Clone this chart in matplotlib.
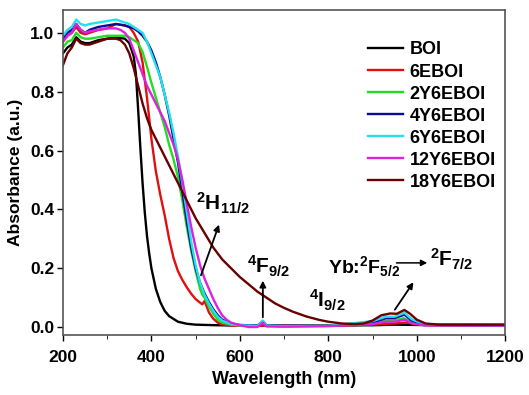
import matplotlib
matplotlib.use("Agg")
import matplotlib.pyplot as plt

plt.rcParams['font.family'] = ['Liberation Sans', 'DejaVu Sans']
plt.rcParams['font.weight'] = 'bold'
plt.rcParams['mathtext.fontset'] = 'custom'
plt.rcParams['mathtext.rm'] = 'Liberation Sans:bold'
plt.rcParams['mathtext.bf'] = 'Liberation Sans:bold'
plt.rcParams['mathtext.it'] = 'Liberation Sans:bold'
plt.rcParams['mathtext.default'] = 'bf'

# values
wl_boi = [200, 210, 220, 230, 240, 250, 260, 280, 300, 320, 340, 350, 360, 365, 370, 375, 380, 385, 390,
          395, 400, 410, 420, 430, 440, 460, 480, 500, 550, 600, 700, 800, 900, 950, 1000, 1100, 1200]
a_boi = [0.93, 0.95, 0.96, 0.985, 0.97, 0.965, 0.965, 0.975, 0.98, 0.985, 0.98, 0.965, 0.92, 0.86, 0.74,
         0.61, 0.49, 0.39, 0.31, 0.25, 0.2, 0.13, 0.085, 0.055, 0.037, 0.018, 0.011, 0.008, 0.006, 0.005,
         0.005, 0.005, 0.006, 0.008, 0.007, 0.005, 0.005]

wl_6e = [200, 210, 220, 230, 240, 250, 260, 280, 300, 320, 340, 350, 360, 370, 380, 390, 400, 410, 420,
         430, 440, 450, 460, 470, 480, 490, 500, 510, 515, 520, 525, 530, 540, 550, 560, 580, 600, 700,
         800, 900, 950, 975, 1000, 1050, 1200]
a_6e = [0.97, 0.99, 1.0, 1.02, 1.0, 0.995, 1.0, 1.01, 1.015, 1.03, 1.025, 1.02, 1.0, 0.97, 0.9, 0.78,
        0.64, 0.53, 0.45, 0.38, 0.3, 0.235, 0.19, 0.16, 0.135, 0.113, 0.095, 0.083, 0.077, 0.088, 0.07,
        0.05, 0.028, 0.015, 0.009, 0.005, 0.004, 0.004, 0.005, 0.008, 0.012, 0.015, 0.01, 0.008, 0.008]

wl_2y = [200, 210, 220, 230, 240, 250, 260, 280, 300, 320, 340, 350, 360, 370, 380, 390, 400, 410, 420,
         430, 440, 450, 460, 470, 480, 490, 500, 510, 515, 520, 530, 540, 550, 560, 580, 600, 640, 652,
         660, 700, 800, 900, 930, 950, 970, 990, 1020, 1200]
a_2y = [0.95, 0.97, 0.975, 1.0, 0.985, 0.98, 0.98, 0.985, 0.99, 0.99, 0.99, 0.985, 0.975, 0.965, 0.935,
        0.885, 0.83, 0.78, 0.73, 0.68, 0.62, 0.57, 0.51, 0.43, 0.34, 0.26, 0.19, 0.13, 0.11, 0.1, 0.07,
        0.045, 0.025, 0.015, 0.008, 0.005, 0.004, 0.015, 0.004, 0.003, 0.004, 0.012, 0.022, 0.022, 0.03,
        0.015, 0.006, 0.005]

wl_4y = [200, 210, 220, 230, 240, 250, 260, 280, 300, 320, 340, 360, 370, 380, 390, 400, 410, 420, 430,
         440, 450, 460, 470, 480, 490, 500, 510, 520, 530, 540, 550, 560, 580, 600, 640, 652, 660, 700,
         800, 900, 930, 950, 972, 990, 1020, 1200]
a_4y = [0.98, 1.0, 1.01, 1.03, 1.01, 1.0, 1.01, 1.02, 1.025, 1.03, 1.025, 1.015, 1.005, 0.99, 0.97, 0.94,
        0.9, 0.85, 0.79, 0.72, 0.64, 0.56, 0.46, 0.36, 0.27, 0.2, 0.15, 0.115, 0.085, 0.06, 0.04, 0.025,
        0.012, 0.007, 0.005, 0.02, 0.006, 0.004, 0.004, 0.015, 0.03, 0.03, 0.042, 0.02, 0.008, 0.006]

wl_6y = [200, 210, 220, 230, 240, 250, 260, 280, 300, 320, 340, 350, 360, 370, 380, 390, 400, 410, 420,
         430, 440, 450, 460, 470, 480, 490, 500, 510, 520, 530, 540, 550, 560, 580, 600, 640, 652, 660,
         700, 800, 900, 930, 950, 972, 990, 1020, 1200]
a_6y = [0.99, 1.01, 1.02, 1.045, 1.03, 1.025, 1.03, 1.035, 1.04, 1.045, 1.035, 1.03, 1.02, 1.01, 1.0,
        0.97, 0.93, 0.89, 0.85, 0.79, 0.73, 0.66, 0.58, 0.49, 0.39, 0.29, 0.21, 0.15, 0.11, 0.08, 0.055,
        0.035, 0.022, 0.01, 0.006, 0.004, 0.022, 0.005, 0.003, 0.004, 0.02, 0.035, 0.035, 0.048, 0.025,
        0.008, 0.006]

wl_12y = [200, 210, 220, 230, 240, 250, 260, 280, 300, 320, 330, 340, 350, 360, 370, 380, 390, 400, 410,
          420, 430, 440, 450, 460, 470, 480, 490, 500, 510, 520, 530, 540, 550, 560, 570, 580, 600, 620,
          640, 652, 660, 700, 750, 800, 900, 930, 950, 972, 990, 1020, 1200]
a_12y = [0.97, 0.99, 1.0, 1.03, 1.01, 1.0, 1.005, 1.01, 1.015, 1.015, 1.01, 1.0, 0.98, 0.94, 0.9, 0.86,
         0.82, 0.79, 0.76, 0.73, 0.7, 0.66, 0.62, 0.57, 0.5, 0.42, 0.34, 0.27, 0.21, 0.165, 0.13, 0.095,
         0.065, 0.04, 0.025, 0.015, 0.006, 0.0, 0.0, 0.015, 0.002, 0.001, 0.002, 0.003, 0.01, 0.018,
         0.018, 0.025, 0.012, 0.005, 0.005]

wl_18y = [200, 210, 220, 230, 240, 250, 260, 280, 300, 320, 330, 340, 350, 360, 370, 380, 390, 400, 410,
          420, 430, 440, 450, 460, 470, 480, 500, 520, 540, 560, 580, 600, 620, 640, 660, 680, 700, 720,
          750, 780, 800, 830, 860, 880, 900, 920, 940, 955, 972, 985, 1000, 1020, 1050, 1200]
a_18y = [0.89, 0.93, 0.95, 0.98, 0.965, 0.96, 0.96, 0.97, 0.98, 0.98, 0.975, 0.96, 0.93, 0.88, 0.82,
         0.76, 0.71, 0.67, 0.64, 0.61, 0.58, 0.55, 0.52, 0.49, 0.46, 0.43, 0.37, 0.32, 0.27, 0.23, 0.2,
         0.17, 0.145, 0.12, 0.1, 0.08, 0.065, 0.052, 0.036, 0.024, 0.018, 0.012, 0.01, 0.012, 0.022,
         0.04, 0.046, 0.045, 0.058, 0.045, 0.025, 0.012, 0.008, 0.008]

labels = ['BOI', '6EBOI', '2Y6EBOI', '4Y6EBOI', '6Y6EBOI', '12Y6EBOI', '18Y6EBOI']
colors = ['#000000', '#e01010', '#22dd22', '#0a0a9a', '#22e0ee', '#dd22dd', '#6a0000']
series = [(wl_boi, a_boi), (wl_6e, a_6e), (wl_2y, a_2y), (wl_4y, a_4y),
          (wl_6y, a_6y), (wl_12y, a_12y), (wl_18y, a_18y)]

fig = plt.figure(figsize=(5.29, 3.95), dpi=100)
ax = fig.add_axes([0.119, 0.152, 0.836, 0.823])

for (x, y), lab, c in zip(series, labels, colors):
    ax.plot(x, y, color=c, lw=1.7, label=lab)

ax.set_xlim(200, 1200)
ax.set_ylim(-0.027, 1.078)
ax.set_xticks([200, 400, 600, 800, 1000, 1200])
ax.set_xticks(range(300, 1200, 200), minor=True)
ax.set_yticks([0.0, 0.2, 0.4, 0.6, 0.8, 1.0])
ax.set_yticklabels(['0.0', '0.2', '0.4', '0.6', '0.8', '1.0'])
ax.tick_params(labelsize=12.5, width=1, length=4, direction='out', pad=2)
ax.tick_params(axis='x', pad=7)
ax.tick_params(which='minor', length=3, direction='out')
ax.tick_params(axis='y', which='both', right=False)
for s in ax.spines.values():
    s.set_color('#555555')
    s.set_linewidth(1.2)

ax.set_xlabel('Wavelength (nm)', fontsize=13, fontweight='bold', labelpad=4)
ax.set_ylabel('Absorbance (a.u.)', fontsize=12.5, fontweight='bold', labelpad=5)

ax.legend(loc='upper left', bbox_to_anchor=(0.674, 0.925), frameon=False, fontsize=13,
          handlelength=1.95, labelspacing=0.28, handletextpad=0.35, borderaxespad=0)

ax.text(500, 0.42, r'$^{2}$H$_{11/2}$', fontsize=15, ha='left', va='center')
ax.annotate('', xy=(555, 0.357), xytext=(510, 0.167),
            arrowprops=dict(arrowstyle='-|>', color='black', lw=1.3, mutation_scale=9))
ax.text(617, 0.205, r'$^{4}$F$_{9/2}$', fontsize=15, ha='left', va='center')
ax.annotate('', xy=(652, 0.167), xytext=(652, 0.024),
            arrowprops=dict(arrowstyle='-|>', color='black', lw=1.3, mutation_scale=9))
ax.text(757, 0.092, r'$^{4}$I$_{9/2}$', fontsize=15, ha='left', va='center')
ax.text(800, 0.205, r'Yb:$^{2}$F$_{5/2}$', fontsize=14, ha='left', va='center')
ax.annotate('', xy=(1030, 0.218), xytext=(948, 0.218),
            arrowprops=dict(arrowstyle='-|>', color='black', lw=1.1, mutation_scale=9))
ax.text(1030, 0.23, r'$^{2}$F$_{7/2}$', fontsize=15, ha='left', va='center')
ax.annotate('', xy=(996, 0.16), xytext=(947, 0.051),
            arrowprops=dict(arrowstyle='-|>', color='black', lw=1.3, mutation_scale=9))

fig.savefig('out.png', dpi=100)
